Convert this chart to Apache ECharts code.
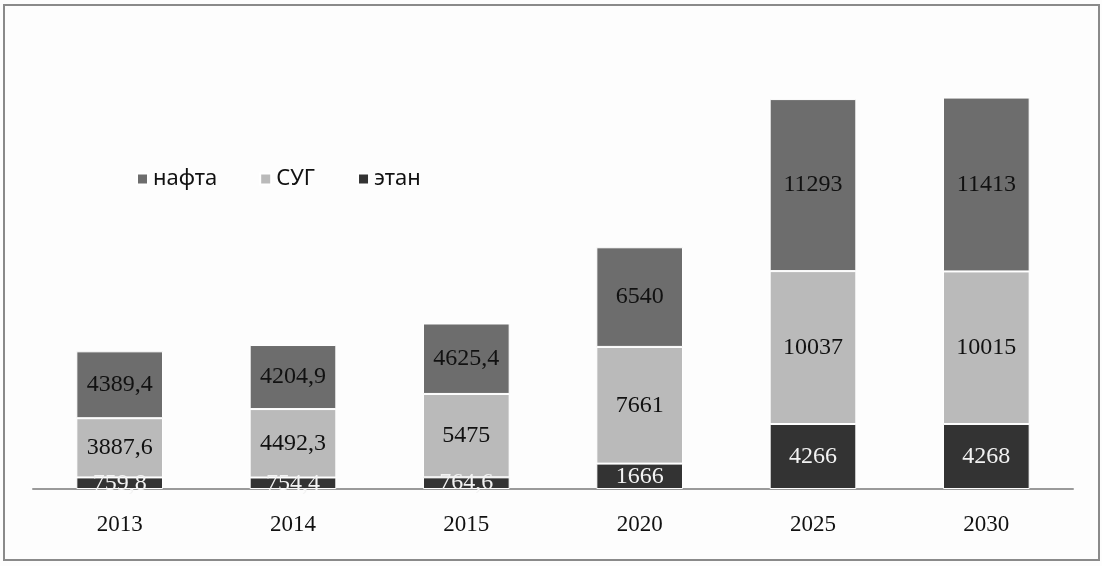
<!DOCTYPE html>
<html><head><meta charset="utf-8">
<script src="https://cdn.jsdelivr.net/npm/echarts@6/dist/echarts.min.js"></script>
<style>html,body{margin:0;padding:0;background:#fff}#c{width:1102px;height:566px}</style>
</head><body><div id="c"></div>
<script>
const categories = ['2013','2014','2015','2020','2025','2030'];
const ethane = [759.8, 754.4, 764.6, 1666, 4266, 4268];
const lpg = [3887.6, 4492.3, 5475, 7661, 10037, 10015];
const naphtha = [4389.4, 4204.9, 4625.4, 6540, 11293, 11413];
const seriesNames = ['этан','СУГ','нафта'];

const fmt = v => String(v).replace('.', ',');
const chart = echarts.init(document.getElementById('c'));
function mk(name, data, color, labelColor){
  return {name, type:'bar', stack:'t', data, barWidth:'50%',
    itemStyle:{color, borderColor:'#fff', borderWidth:1},
    label:{show:true, position:'inside', color:labelColor, fontFamily:'Liberation Serif', fontSize:24,
      formatter:p=>fmt(p.value)}};
}
chart.setOption({
  animation:false,
  backgroundColor:'#fdfdfd',
  graphic:[{type:'rect', shape:{x:4,y:5,width:1095,height:555}, style:{fill:'none', stroke:'#8a8a8a', lineWidth:2}, z:-1}],
  legend:{left:131, top:163, itemWidth:11, itemHeight:11, itemGap:42,
    data:[seriesNames[2], seriesNames[1], seriesNames[0]],
    icon:'rect', textStyle:{fontFamily:'Noto Sans', fontSize:22, color:'#111'}},
  grid:{left:33, right:29, top:32, bottom:77},
  xAxis:{type:'category', data:categories, axisTick:{show:false},
    axisLine:{lineStyle:{color:'#9a9a9a', width:2}},
    axisLabel:{margin:24, fontFamily:'Liberation Serif', fontSize:23, color:'#111'}},
  yAxis:{type:'value', min:0, max:30000, show:false, splitLine:{show:false}},
  series:[
    mk(seriesNames[0], ethane, '#333333', '#f2f2f2'),
    mk(seriesNames[1], lpg, '#bababa', '#111'),
    mk(seriesNames[2], naphtha, '#6d6d6d', '#111')
  ]
});
</script></body></html>
